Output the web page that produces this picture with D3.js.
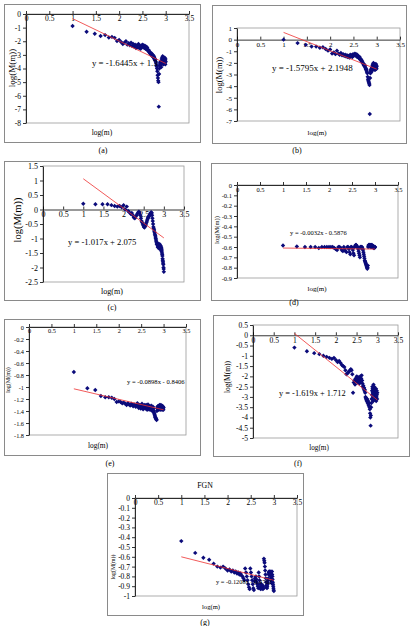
<!DOCTYPE html>
<html lang="en">
<head>
<meta charset="UTF-8">
<title>log(M(m)) against log(m)</title>
<script src="https://d3js.org/d3.v7.min.js"></script>
<style>
  body { margin: 0; background: #fff; }
  svg { display: block; background: #fff; }
  svg text { font-family: "Liberation Serif", Tinos, "Times New Roman", Times, serif; }
</style>
</head>
<body>
<script>
// window sizes m, plotted as log10(m)
const mValues = [10,20,30,40,50,60,70,80,90,100,110,120,130,140,150,160,170,180,190,200,
  210,220,230,240,250,260,270,280,290,300,310,320,330,340,350,360,370,380,390,400,
  410,420,430,440,450,460,470,480,490,500,510,520,530,540,550,560,570,580,590,600,
  610,620,630,640,650,660,670,680,690,700,710,720,730,740,750,760,770,780,790,800,
  810,820,830,840,850,860,870,880,890,900,910,920,930,940,950,960,970,980,990,1000];
const xTicks = [0, 0.5, 1, 1.5, 2, 2.5, 3, 3.5];

const seriesA = [-0.88,-1.3,-1.45,-1.62,-1.55,-1.72,-1.68,-1.75,-1.98,-1.9,
  -2.05,-2.2,-2.1,-2.0,-2.25,-2.15,-2.3,-2.1,-2.35,-2.2,
  -2.4,-2.25,-2.5,-2.3,-2.45,-2.2,-2.5,-2.35,-2.55,-2.3,
  -2.4,-2.25,-2.45,-2.3,-2.5,-2.35,-2.55,-2.4,-2.6,-2.45,
  -2.6,-2.7,-2.65,-2.8,-2.75,-2.9,-2.85,-2.95,-3.0,-2.9,
  -3.05,-3.1,-3.0,-3.15,-3.2,-3.1,-3.3,-3.25,-3.4,-3.35,
  -3.5,-3.6,-3.75,-3.85,-4.0,-4.2,-4.5,-4.7,-4.9,-5.0,
  -6.8,-4.4,-4.0,-3.8,-3.6,-3.7,-3.5,-3.8,-3.6,-3.9,
  -3.5,-3.3,-3.6,-3.2,-3.4,-3.1,-3.5,-3.3,-3.7,-3.2,
  -3.4,-3.6,-3.3,-3.5,-3.2,-3.6,-3.4,-3.7,-3.3,-3.5];
const seriesB = [0,-0.3,-0.45,-0.6,-0.6,-0.7,-0.65,-0.8,-0.95,-0.85,
  -1.2,-1.1,-1.25,-0.95,-1.2,-1.3,-1.15,-1.35,-1.25,-1.4,
  -1.3,-1.45,-1.35,-1.5,-1.4,-1.55,-1.3,-1.45,-1.35,-1.5,
  -1.25,-1.4,-1.3,-1.2,-1.35,-1.25,-1.45,-1.3,-1.5,-1.4,
  -1.55,-1.6,-1.5,-1.7,-1.65,-1.8,-1.75,-1.9,-1.85,-2.0,
  -2.05,-2.1,-2.2,-2.15,-2.3,-2.25,-2.4,-2.5,-2.6,-2.55,
  -2.7,-2.8,-2.9,-3.2,-3.4,-3.5,-3.6,-3.7,-3.8,-3.9,
  -6.4,-3.3,-2.9,-2.7,-2.6,-2.8,-2.5,-2.7,-2.4,-2.6,
  -2.2,-2.4,-2.1,-2.3,-2.0,-2.5,-2.2,-2.6,-2.3,-2.1,
  -2.4,-2.2,-2.6,-2.3,-2.5,-2.1,-2.4,-2.2,-2.5,-2.3];
const seriesC = [0.2,0.18,0.18,0.18,0.15,0.12,0.1,0.12,0.08,0.15,
  0.0,0.1,-0.05,-0.1,-0.15,-0.12,-0.2,-0.28,-0.3,-0.25,
  -0.2,-0.15,-0.1,-0.08,-0.12,-0.2,-0.3,-0.4,-0.45,-0.5,
  -0.55,-0.6,-0.62,-0.58,-0.55,-0.5,-0.45,-0.4,-0.35,-0.3,
  -0.28,-0.25,-0.22,-0.2,-0.18,-0.15,-0.12,-0.1,-0.1,-0.12,
  -0.2,-0.3,-0.4,-0.5,-0.6,-0.65,-0.7,-0.75,-0.8,-0.85,
  -0.9,-0.95,-1.0,-1.05,-1.1,-1.15,-1.2,-1.15,-1.2,-1.25,
  -1.3,-1.2,-1.25,-1.3,-1.2,-1.25,-1.35,-1.3,-1.2,-1.25,
  -1.3,-1.35,-1.25,-1.3,-1.4,-1.3,-1.35,-1.45,-1.4,-1.5,
  -1.55,-1.6,-1.7,-1.75,-1.8,-1.85,-1.9,-2.0,-2.05,-2.15];
const seriesD = [-0.585,-0.595,-0.6,-0.6,-0.6,-0.61,-0.6,-0.6,-0.6,-0.6,
  -0.6,-0.6,-0.61,-0.62,-0.63,-0.6,-0.6,-0.61,-0.63,-0.64,
  -0.6,-0.62,-0.64,-0.65,-0.6,-0.6,-0.62,-0.65,-0.67,-0.6,
  -0.6,-0.61,-0.63,-0.66,-0.68,-0.6,-0.59,-0.58,-0.58,-0.59,
  -0.6,-0.6,-0.62,-0.64,-0.66,-0.68,-0.7,-0.6,-0.6,-0.61,
  -0.6,-0.6,-0.61,-0.62,-0.63,-0.65,-0.67,-0.69,-0.71,-0.73,
  -0.74,-0.75,-0.76,-0.77,-0.78,-0.79,-0.8,-0.81,-0.8,-0.78,
  -0.6,-0.59,-0.58,-0.58,-0.59,-0.58,-0.58,-0.59,-0.6,-0.59,
  -0.58,-0.59,-0.58,-0.6,-0.59,-0.58,-0.6,-0.59,-0.6,-0.6,
  -0.59,-0.6,-0.6,-0.61,-0.6,-0.6,-0.61,-0.6,-0.6,-0.6];
const seriesE = [-0.75,-1.02,-1.05,-1.15,-1.17,-1.17,-1.18,-1.2,-1.25,-1.24,
  -1.25,-1.27,-1.26,-1.28,-1.3,-1.27,-1.29,-1.31,-1.28,-1.3,
  -1.32,-1.29,-1.31,-1.33,-1.3,-1.27,-1.32,-1.35,-1.3,-1.33,
  -1.36,-1.31,-1.28,-1.33,-1.37,-1.32,-1.34,-1.3,-1.36,-1.33,
  -1.3,-1.35,-1.38,-1.33,-1.29,-1.34,-1.37,-1.32,-1.35,-1.38,
  -1.34,-1.36,-1.31,-1.35,-1.38,-1.4,-1.37,-1.33,-1.36,-1.39,
  -1.42,-1.44,-1.46,-1.48,-1.5,-1.51,-1.52,-1.53,-1.54,-1.55,
  -1.4,-1.36,-1.33,-1.35,-1.32,-1.38,-1.34,-1.36,-1.31,-1.37,
  -1.33,-1.3,-1.35,-1.38,-1.32,-1.36,-1.3,-1.34,-1.37,-1.33,
  -1.35,-1.31,-1.38,-1.34,-1.32,-1.36,-1.33,-1.35,-1.38,-1.34];
const seriesF = [-0.6,-0.78,-0.87,-0.92,-1.0,-1.05,-1.1,-1.15,-1.1,-1.2,
  -1.3,-1.25,-1.35,-1.45,-1.5,-1.55,-1.7,-1.9,-1.85,-1.8,
  -1.75,-1.7,-1.65,-1.7,-1.9,-2.8,-2.3,-2.2,-2.4,-2.1,
  -2.25,-2.0,-2.15,-2.3,-2.05,-2.2,-2.35,-2.1,-2.0,-2.25,
  -2.1,-1.95,-2.2,-2.35,-2.5,-2.45,-2.6,-2.55,-2.7,-2.65,
  -2.8,-3.0,-3.05,-3.1,-3.15,-3.2,-3.1,-3.25,-3.3,-3.2,
  -3.35,-3.4,-3.3,-3.45,-3.5,-3.6,-3.8,-4.0,-4.4,-3.9,
  -3.5,-3.3,-3.1,-2.9,-2.7,-2.5,-2.6,-2.8,-3.0,-3.2,
  -2.4,-2.6,-2.8,-2.5,-2.7,-2.9,-3.1,-2.6,-2.8,-3.0,
  -2.7,-2.9,-2.6,-3.2,-2.8,-3.0,-2.7,-2.9,-3.1,-2.8];
const seriesG = [-0.44,-0.56,-0.61,-0.63,-0.67,-0.7,-0.71,-0.7,-0.72,-0.74,
  -0.73,-0.75,-0.74,-0.76,-0.75,-0.77,-0.76,-0.78,-0.77,-0.79,
  -0.8,-0.82,-0.84,-0.72,-0.76,-0.8,-0.84,-0.88,-0.91,-0.93,
  -0.72,-0.76,-0.8,-0.84,-0.88,-0.92,-0.94,-0.85,-0.82,-0.84,
  -0.8,-0.83,-0.86,-0.88,-0.9,-0.92,-0.76,-0.8,-0.84,-0.88,
  -0.91,-0.93,-0.88,-0.9,-0.92,-0.89,-0.91,-0.93,-0.9,-0.92,
  -0.62,-0.64,-0.66,-0.7,-0.74,-0.78,-0.82,-0.86,-0.89,-0.91,
  -0.92,-0.9,-0.88,-0.86,-0.84,-0.82,-0.78,-0.76,-0.75,-0.77,
  -0.76,-0.78,-0.75,-0.77,-0.8,-0.76,-0.79,-0.82,-0.85,-0.87,
  -0.75,-0.78,-0.8,-0.83,-0.86,-0.88,-0.9,-0.92,-0.94,-0.95];

// trend line end points [log(m), log(M(m))]
const trendA = [[1, -0.34], [3, -3.63]];
const trendB = [[1, 0.62], [3, -2.54]];
const trendC = [[1, 1.06], [3, -0.98]];
const trendD = [[1, -0.61], [3, -0.62]];
const trendE = [[1, -1.03], [3, -1.38]];
const trendF = [[1, 0.09], [3, -3.15]];
const trendG = [[1, -0.6], [3, -0.84]];

const eqA = 'y = -1.6445x + 1.3';
const eqB = 'y = -1.5795x + 2.1948';
const eqC = 'y = -1.017x + 2.075';
const eqD = 'y = -0.0032x - 0.5876';
const eqE = 'y = -0.0898x - 0.8406';
const eqF = 'y = -1.619x + 1.712';
const eqG = 'y = -0.1208x - 0.4762';

const yTicksA = [0, -1, -2, -3, -4, -5, -6, -7, -8];
const yTicksB = [1, 0, -1, -2, -3, -4, -5, -6, -7];
const yTicksC = [1.5, 1, 0.5, 0, -0.5, -1, -1.5, -2, -2.5];
const yTicksD = [0, -0.1, -0.2, -0.3, -0.4, -0.5, -0.6, -0.7, -0.8, -0.9];
const yTicksE = [0, -0.2, -0.4, -0.6, -0.8, -1, -1.2, -1.4, -1.6, -1.8];
const yTicksF = [0.5, 0, -0.5, -1, -1.5, -2, -2.5, -3, -3.5, -4, -4.5, -5];
const yTicksG = [0, -0.1, -0.2, -0.3, -0.4, -0.5, -0.6, -0.7, -0.8, -0.9, -1];

const captions = ['(a)', '(b)', '(c)', '(d)', '(e)', '(f)', '(g)'];

// page layout of each small chart; fs = [ticks, equation, x title, y title]
const panels = [
  {data: seriesA, trend: trendA, eq: eqA, yTicks: yTicksA, cap: captions[0],
   box: [4, 4, 200, 142], px: [26, 189], py: [14, 123], eqAt: [92, 66], xlabAt: [102, 135], ylabAt: [12, 68], capAt: [103, 153], fs: [7.5, 8.8, 7.5, 9]},
  {data: seriesB, trend: trendB, eq: eqB, yTicks: yTicksB, cap: captions[1],
   box: [212, 5, 406, 143], px: [237, 400], py: [28, 121], eqAt: [272, 71], xlabAt: [317, 135], ylabAt: [219, 75], capAt: [297, 153], fs: [7, 9, 7, 8.5]},
  {data: seriesC, trend: trendC, eq: eqC, yTicks: yTicksC, cap: captions[2],
   box: [4, 161, 200, 300], px: [43, 184], py: [166, 282], eqAt: [68, 245], xlabAt: [112, 294], ylabAt: [17, 220], capAt: [112, 310], fs: [8, 8.6, 8, 10.5]},
  {data: seriesD, trend: trendD, eq: eqD, yTicks: yTicksD, cap: captions[3],
   box: [211, 163, 407, 300], px: [237, 398], py: [185, 278], eqAt: [290, 235], xlabAt: [317, 291], ylabAt: [217, 230], capAt: [294, 305], fs: [6.5, 6.5, 7, 6.5]},
  {data: seriesE, trend: trendE, eq: eqE, yTicks: yTicksE, cap: captions[4],
   box: [4, 319, 200, 455], px: [29, 186], py: [327, 435], eqAt: [127, 384], xlabAt: [98, 448], ylabAt: [8, 380], capAt: [110, 466], fs: [6.3, 6.6, 7.4, 6]},
  {data: seriesF, trend: trendF, eq: eqF, yTicks: yTicksF, cap: captions[5],
   box: [213, 315, 409, 456], px: [253, 398], py: [325, 438], eqAt: [279, 396], xlabAt: [319, 450], ylabAt: [227, 377], capAt: [298, 466], fs: [7.6, 8.4, 7.2, 7.5]},
  {data: seriesG, trend: trendG, eq: eqG, yTicks: yTicksG, cap: captions[6], title: 'FGN',
   box: [107, 473, 303, 615], px: [135, 297], py: [498, 596], eqAt: [216, 584], xlabAt: [211, 609], ylabAt: [113, 567], capAt: [205, 625], fs: [7.5, 6.4, 6.6, 5.8]}
];

const width = 410, height = 626;
const svg = d3.select('body').append('svg')
  .attr('width', width)
  .attr('height', height);

const fmt = d => String(+d.toFixed(2));
const diamond = 'M0,-2.2L2.2,0L0,2.2L-2.2,0Z';

panels.forEach(p => {
  const g = svg.append('g');

  g.append('rect')
    .attr('x', p.box[0] + 0.5).attr('y', p.box[1] + 0.5)
    .attr('width', p.box[2] - p.box[0]).attr('height', p.box[3] - p.box[1])
    .attr('fill', '#fff').attr('stroke', '#8a8a8a');

  const x = d3.scaleLinear().domain([0, 3.5]).range(p.px);
  const y = d3.scaleLinear().domain(d3.extent(p.yTicks)).range([p.py[1], p.py[0]]);

  // plot area border
  g.append('rect')
    .attr('x', x(0)).attr('y', y(d3.max(p.yTicks)))
    .attr('width', x(3.5) - x(0)).attr('height', y(d3.min(p.yTicks)) - y(d3.max(p.yTicks)))
    .attr('fill', 'none').attr('stroke', '#9a9a9a').attr('stroke-width', 0.8);

  const yAxis = g.append('g')
    .attr('transform', `translate(${x(0)},0)`)
    .call(d3.axisLeft(y).tickValues(p.yTicks).tickSizeInner(3).tickSizeOuter(0).tickPadding(2).tickFormat(fmt));

  const xAxis = g.append('g')
    .attr('transform', `translate(0,${y(0)})`)
    .call(d3.axisBottom(x).tickValues(xTicks).tickSizeInner(-3).tickSizeOuter(0).tickPadding(2).tickFormat(fmt));

  [yAxis, xAxis].forEach(a => {
    a.attr('font-family', null).attr('font-size', p.fs[0]);
    a.selectAll('path, line').attr('stroke', '#000').attr('stroke-width', 0.8);
    a.selectAll('text').attr('fill', '#000');
  });

  g.append('g').selectAll('path')
    .data(p.data.map((v, i) => [Math.log10(mValues[i]), v]))
    .join('path')
    .attr('d', diamond)
    .attr('transform', d => `translate(${x(d[0])},${y(d[1])})`)
    .attr('fill', '#0b0b7a');

  g.append('line')
    .attr('x1', x(p.trend[0][0])).attr('y1', y(p.trend[0][1]))
    .attr('x2', x(p.trend[1][0])).attr('y2', y(p.trend[1][1]))
    .attr('stroke', '#ee3030').attr('stroke-width', 0.8);

  g.append('text')
    .attr('x', p.eqAt[0]).attr('y', p.eqAt[1])
    .attr('font-size', p.fs[1])
    .text(p.eq);

  g.append('text')
    .attr('x', p.xlabAt[0]).attr('y', p.xlabAt[1])
    .attr('text-anchor', 'middle').attr('font-size', p.fs[2])
    .text('log(m)');

  g.append('text')
    .attr('transform', `translate(${p.ylabAt[0]},${p.ylabAt[1]}) rotate(-90)`)
    .attr('text-anchor', 'middle').attr('dy', '0.35em').attr('font-size', p.fs[3])
    .text('log(M(m))');

  if (p.title) {
    g.append('text')
      .attr('x', (p.box[0] + p.box[2]) / 2).attr('y', p.box[1] + 15)
      .attr('text-anchor', 'middle').attr('font-size', 7.8)
      .text(p.title);
  }

  svg.append('text')
    .attr('x', p.capAt[0]).attr('y', p.capAt[1])
    .attr('text-anchor', 'middle').attr('font-size', 8)
    .text(p.cap);
});
</script>
</body>
</html>
